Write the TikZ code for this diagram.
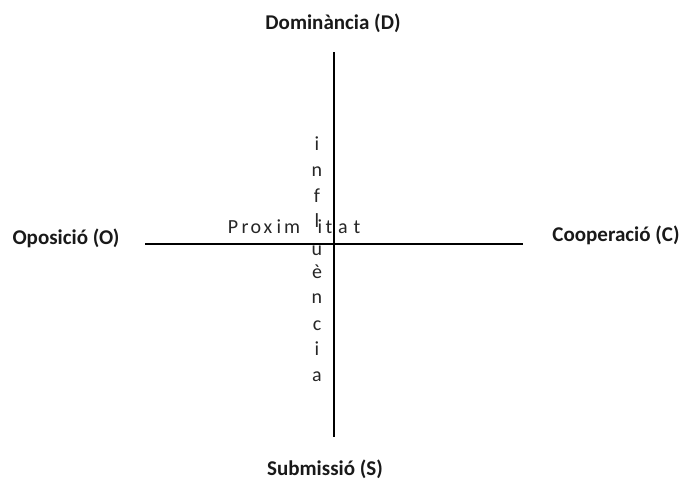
\documentclass[tikz,border=0pt]{standalone}
\usepackage{fontspec}
\setmainfont{Carlito}
\begin{document}
\begin{tikzpicture}[x=1pt,y=-1pt,
  axis/.style={draw=black,line width=1.8pt},
  pole/.style={font=\fontsize{21}{24}\selectfont\bfseries,text=black!90,inner sep=0pt},
  spaced/.style={font=\fontsize{20}{22}\selectfont,text=black!85,inner sep=0pt,anchor=base}]
\useasboundingbox (0,0) rectangle (681,480);
% end points of the axes
\coordinate (top) at (334,52);
\coordinate (bot) at (334,437);
\coordinate (lft) at (145,244);
\coordinate (rgt) at (523,244);
\draw[axis] (top) -- (bot);
\draw[axis] (lft) -- (rgt);
% poles
\node[pole] (D) at (333,23) {Dominància (D)};
\node[pole] (O) at (66,238) {Oposició (O)};
\node[pole] (C) at (616,235) {Cooperació (C)};
\node[pole] (S) at (325,469) {Submissió (S)};
% Proximitat (letter-spaced, horizontal)
\foreach \ch/\xx [count=\k] in {P/233,r/245,o/256,x/268,i/279,m/292,i/320,t/329,a/343,t/357}
  \node[spaced] (p\k) at (\xx,233) {\ch};
% influència (vertical)
\foreach \ch/\yy [count=\k] in {i/150,n/176,f/202,l/227,u/255,è/278,n/303,c/330,i/355,a/381}
  \node[spaced] (v\k) at (317,\yy) {\ch};
\end{tikzpicture}
\end{document}
